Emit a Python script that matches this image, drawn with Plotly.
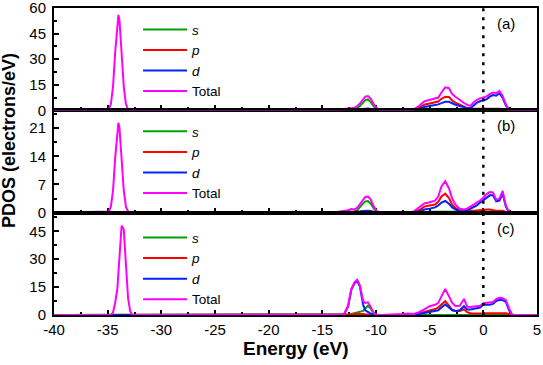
import plotly.graph_objects as go
from plotly.subplots import make_subplots

# energy grid (eV), shared by all three panels
energy = [-40.0,
          -34.9, -34.7, -34.5, -34.3, -34.1, -34.0, -33.9, -33.7, -33.5, -33.3, -33.1, -32.9, -32.7,
          -14.0, -13.5, -13.0, -12.6, -12.3, -12.0, -11.75, -11.5, -11.2, -11.0, -10.75, -10.5, -10.2, -9.9, -9.5,
          -7.5, -7.0, -6.5, -6.0, -5.5, -5.0, -4.5, -4.2, -3.9, -3.55, -3.2, -2.9, -2.6, -2.2, -1.8, -1.5, -1.2, -0.9, -0.6, -0.3,
          0.0, 0.3, 0.6, 0.9, 1.2, 1.5, 1.8, 2.1, 2.4, 2.7, 5.0]

# panel (a)
a_s = [0,
       0, 0, 0, 0, 0, 0, 0, 0, 0, 0, 0, 0, 0,
       0, 0.1, 0.2, 0.3, 0.4, 0.6, 1.2, 2.5, 4.5, 6.0, 6.4, 5.0, 2.3, 0.5, 0,
       0, 0, 0.1, 0.2, 0.3, 0.4, 0.4, 0.4, 0.5, 0.5, 0.5, 0.4, 0.4, 0.3, 0.3, 0.3, 0.3, 0.3, 0.4, 0.5,
       0.5, 0.5, 0.6, 0.6, 0.6, 0.6, 0.5, 0.3, 0, 0, 0]
a_p = [0,
       0, 0, 0, 0, 0, 0, 0, 0, 0, 0, 0, 0, 0,
       0, 0, 0.1, 0.2, 0.3, 0.3, 0.4, 0.5, 0.6, 0.6, 0.6, 0.5, 0.3, 0.1, 0,
       0, 0, 0.3, 1.5, 3.3, 4.0, 4.6, 5.2, 6.8, 8.0, 7.8, 5.8, 4.5, 3.2, 2.0, 1.3, 0.9, 0.9, 1.0, 1.1,
       1.2, 1.2, 1.3, 1.2, 1.1, 1.0, 0.8, 0.4, 0, 0, 0]
a_d = [0,
       0, 0, 0, 0, 0, 0, 0, 0, 0, 0, 0, 0, 0,
       0, 0, 0.1, 0.2, 0.2, 0.3, 0.4, 0.6, 0.8, 1.0, 1.0, 0.8, 0.4, 0.1, 0,
       0, 0, 0.2, 0.8, 2.0, 2.5, 3.0, 3.5, 4.2, 5.0, 5.0, 4.0, 3.3, 2.5, 1.8, 1.3, 1.2, 3.0, 4.5, 5.3,
       5.8, 6.5, 8.0, 9.0, 8.6, 10.0, 7.3, 2.8, 0.1, 0, 0]
a_total = [0,
           0.6, 3.7, 14, 34, 53, 56, 53, 34, 14, 3.7, 0.6, 0, 0,
           0, 0.3, 0.8, 1.0, 1.2, 1.5, 2.5, 4.0, 6.5, 8.0, 8.4, 7.0, 3.5, 1.0, 0,
           0, 0, 0.5, 2.5, 5.3, 6.0, 6.8, 7.5, 10.5, 13.5, 13.0, 9.5, 8.0, 6.0, 4.3, 3.2, 2.6, 4.7, 6.2, 7.0,
           7.5, 8.2, 9.5, 10.4, 10.0, 11.4, 8.5, 3.5, 0.2, 0, 0]

# panel (b)
b_s = [0,
       0, 0, 0, 0, 0, 0, 0, 0, 0, 0, 0, 0, 0,
       0, 0.05, 0.1, 0.2, 0.3, 0.3, 0.6, 1.5, 2.3, 2.8, 2.9, 2.3, 1.0, 0.2, 0,
       0, 0, 0.05, 0.1, 0.15, 0.2, 0.2, 0.2, 0.2, 0.2, 0.2, 0.2, 0.2, 0.2, 0.2, 0.2, 0.2, 0.2, 0.25, 0.3,
       0.3, 0.3, 0.3, 0.3, 0.3, 0.3, 0.3, 0.1, 0, 0, 0]
b_p = [0,
       0, 0, 0, 0, 0, 0, 0, 0, 0, 0, 0, 0, 0,
       0, 0, 0.05, 0.1, 0.1, 0.15, 0.2, 0.25, 0.3, 0.3, 0.3, 0.25, 0.15, 0.05, 0,
       0, 0, 0.15, 0.6, 1.5, 1.8, 2.0, 2.7, 4.0, 4.7, 3.6, 2.0, 1.2, 0.6, 0.5, 0.5, 0.5, 0.5, 0.6, 0.6,
       0.7, 0.8, 0.8, 0.6, 0.5, 0.5, 0.5, 0.2, 0, 0, 0]
b_d = [0,
       0, 0, 0, 0, 0, 0, 0, 0, 0, 0, 0, 0, 0,
       0, 0, 0.05, 0.1, 0.15, 0.2, 0.2, 0.3, 0.4, 0.5, 0.5, 0.4, 0.2, 0.05, 0,
       0, 0, 0.1, 0.3, 0.8, 1.0, 1.3, 1.8, 2.5, 2.9, 2.2, 1.3, 0.8, 0.4, 0.3, 0.6, 1.0, 1.5, 1.8, 2.5,
       3.1, 3.9, 4.3, 4.3, 2.8, 3.0, 4.7, 1.5, 0, 0, 0]
b_total = [0,
           0.3, 1.5, 5.5, 13.6, 21.1, 22.3, 21.1, 13.6, 5.5, 1.5, 0.3, 0, 0,
           0, 0.2, 0.4, 0.6, 0.9, 0.8, 1.2, 2.2, 3.3, 3.9, 4.0, 3.3, 1.5, 0.3, 0,
           0, 0, 0.3, 1.2, 2.3, 2.6, 3.0, 4.0, 6.5, 7.8, 6.0, 3.5, 2.0, 1.0, 0.8, 1.0, 1.5, 2.0, 2.3, 3.0,
           3.7, 4.6, 5.1, 5.0, 3.2, 3.5, 5.4, 1.8, 0.1, 0, 0]

# panel (c)
c_s = [0,
       0, 0, 0, 0, 0, 0, 0, 0, 0, 0, 0, 0, 0,
       0, 0, 0, 0.2, 0.5, 1.0, 1.5, 1.8, 2.2, 3.5, 5.0, 3.5, 0.8, 0, 0,
       0, 0, 0, 0.1, 0.2, 0.3, 0.3, 0.3, 0.4, 0.4, 0.4, 0.3, 0.3, 0.3, 0.3, 0.3, 0.3, 0.3, 0.3, 0.3,
       0.3, 0.3, 0.3, 0.3, 0.3, 0.3, 0.3, 0.2, 0.1, 0, 0]
c_p = [0,
       0, 0, 0, 0, 0, 0, 0, 0, 0, 0, 0, 0, 0,
       0, 0, 0, 0.2, 0.4, 0.5, 0.6, 0.6, 0.5, 0.4, 0.3, 0.2, 0.1, 0, 0,
       0.2, 0.3, 0.2, 0.8, 1.5, 2.5, 3.2, 4.0, 5.5, 7.4, 5.0, 2.8, 2.2, 2.2, 3.0, 1.5, 1.0, 0.9, 0.8, 0.8,
       0.8, 1.0, 1.0, 1.0, 1.0, 1.0, 1.0, 0.9, 0.5, 0, 0]
c_d = [0,
       0, 0, 0, 0, 0, 0, 0, 0, 0, 0, 0, 0, 0,
       0, 0, 0.2, 4.5, 13.5, 17.0, 18.3, 15.3, 5.5, 2.5, 1.5, 0.8, 0.2, 0, 0,
       0, 0, 0, 0.5, 1.0, 1.8, 2.0, 2.5, 4.0, 5.6, 4.0, 2.5, 2.2, 2.5, 4.7, 3.0, 3.0, 3.3, 3.5, 4.0,
       5.5, 5.5, 5.5, 6.0, 7.5, 8.2, 8.0, 7.0, 2.5, 0, 0]
c_total = [0,
           0, 0.2, 1.4, 6.6, 14, 24, 34, 48, 46, 27, 9, 2, 0,
           0, 0, 0.3, 5.0, 14.0, 17.5, 19.0, 16.0, 7.5, 6.5, 6.8, 4.5, 1.0, 0, 0,
           0.5, 0.8, 0.5, 1.5, 3.0, 4.7, 5.5, 6.5, 10.0, 14.0, 10.0, 6.5, 4.8, 5.0, 8.6, 4.5, 4.3, 4.5, 4.7, 5.0,
           6.3, 6.5, 6.5, 7.0, 8.5, 9.2, 9.0, 8.0, 3.5, 0, 0]

x_tick_vals = [-40, -35, -30, -25, -20, -15, -10, -5, 0, 5]
x_tick_text = ['-40', '-35', '-30', '-25', '-20', '-15', '-10', '-5', '0', '5']

series_names = ['<i>s</i>', '<i>p</i>', '<i>d</i>', 'Total']
series_colors = ['#00a000', '#ff0000', '#0022ff', '#ff00ff']
panels = [(a_s, a_p, a_d, a_total), (b_s, b_p, b_d, b_total), (c_s, c_p, c_d, c_total)]
panel_tags = ['(a)', '(b)', '(c)']
y_ranges = [[0, 60.05], [0, 25.4], [0, 55]]
y_dticks = [15, 7, 15]
legend_y = [0.98, 0.648, 0.302]

FONT = 'Liberation Sans, Arial, sans-serif'

fig = make_subplots(rows=3, cols=1, shared_xaxes=True, vertical_spacing=0)

for i, curves in enumerate(panels):
    row = i + 1
    leg = 'legend' if i == 0 else f'legend{row}'
    for name, vals, col in zip(series_names, curves, series_colors):
        fig.add_trace(go.Scatter(x=energy, y=vals, mode='lines', name=name,
                                 line=dict(color=col, width=2),
                                 legend=leg), row=row, col=1)
    fig.add_vline(x=0, line=dict(color='black', width=2.5, dash='3px,6px'), row=row, col=1)
    fig.update_yaxes(range=y_ranges[i], tick0=0, dtick=y_dticks[i],
                     minor=dict(ticks='inside', ticklen=3, tickcolor='black', dtick=y_dticks[i] / 2),
                     row=row, col=1)
    fig.add_annotation(text=panel_tags[i], x=0.959, y=0.95, xref='x domain' if row == 1 else f'x{row} domain',
                       yref='y domain' if row == 1 else f'y{row} domain', showarrow=False,
                       font=dict(size=15, color='black', family=FONT))

leg_style = dict(x=0.174, xanchor='left', yanchor='top', bgcolor='rgba(0,0,0,0)',
                 font=dict(size=13.5, color='black', family=FONT), itemwidth=44)
fig.update_layout(legend=dict(y=legend_y[0], **leg_style),
                  legend2=dict(y=legend_y[1], **leg_style),
                  legend3=dict(y=legend_y[2], **leg_style))

fig.update_xaxes(range=[-40, 5], tickvals=x_tick_vals, ticktext=x_tick_text,
                 ticks='inside', ticklen=5, tickwidth=1.5,
                 tickcolor='black', minor=dict(ticks='inside', ticklen=3, tickcolor='black', dtick=2.5),
                 showline=True, linewidth=2, linecolor='black', mirror=True, automargin=False,
                 showgrid=False, zeroline=False, layer='below traces', ticklabeloverflow='allow',
                 tickfont=dict(size=15, color='black', family=FONT))
fig.update_yaxes(ticks='inside', ticklen=5, tickwidth=1.5, tickcolor='black',
                 showline=True, linewidth=2, linecolor='black', mirror=True, automargin=False,
                 showgrid=False, zeroline=False, layer='below traces', ticklabelstandoff=3,
                 ticklabeloverflow='allow',
                 tickfont=dict(size=15, color='black', family=FONT))

fig.add_annotation(text='<b>PDOS (electrons/eV)</b>', textangle=-90, x=-0.093, y=0.567,
                   xref='paper', yref='paper', showarrow=False, xanchor='center', yanchor='middle',
                   font=dict(size=18, color='black', family=FONT))
fig.add_annotation(text='<b>Energy (eV)</b>', x=0.5, y=-0.108, xref='paper', yref='paper',
                   showarrow=False, xanchor='center', yanchor='middle',
                   font=dict(size=19, color='black', family=FONT))

fig.update_layout(width=543, height=365, margin=dict(l=54, r=6, t=8, b=50),
                  plot_bgcolor='white', paper_bgcolor='white',
                  font=dict(family=FONT, color='black'))

# drop the default page margin so the figure sits at the window's top-left corner
fig.write_html('out.html', config={'displayModeBar': False},
               post_script="document.body.style.margin='0px';")
